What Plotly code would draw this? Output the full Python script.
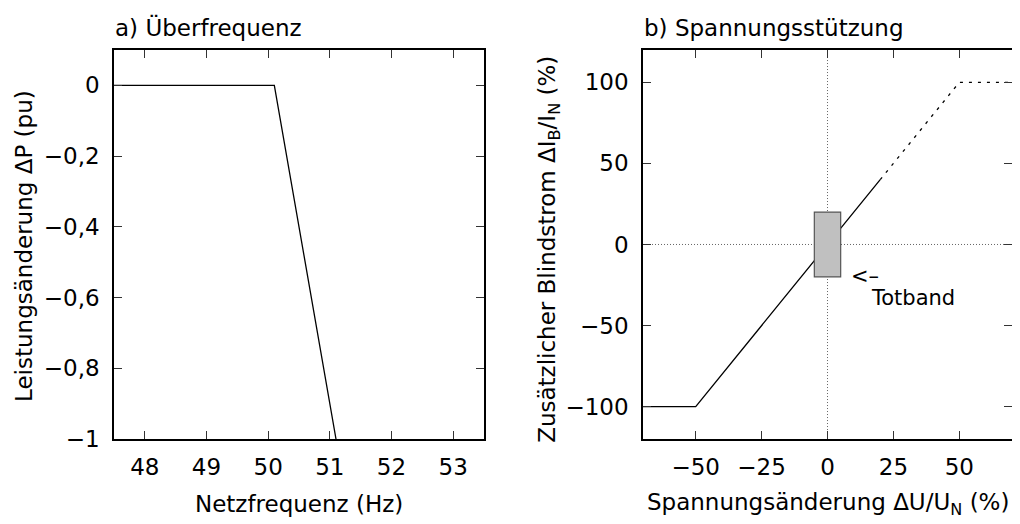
import plotly.graph_objects as go

# --- data ---
freq_hz = [47.5, 50.1, 51.1]
delta_p = [0, 0, -1]

u_solid = [-70, -50, 20]
i_solid = [-100, -100, 40]
u_dot = [20, 50, 70]
i_dot = [40, 100, 100]

totband_u = [-5, 5]
totband_i = [-20, 20]

left_xticks = [48, 49, 50, 51, 52, 53]
left_yticks = [0, -0.2, -0.4, -0.6, -0.8, -1]
right_xticks = [-50, -25, 0, 25, 50]
right_yticks = [100, 50, 0, -50, -100]

FONT = "DejaVu Sans, Liberation Sans, Arial, sans-serif"
FS = 23
XOFF = 8  # horizontal page offset of the plot div
W, H = 1020 - XOFF, 524


def fx(px):
    return (px - XOFF) / W


def fy(py):
    return 1 - py / H


fig = go.Figure()

fig.add_trace(go.Scatter(x=freq_hz, y=delta_p, mode="lines",
                         line=dict(color="black", width=1.3),
                         xaxis="x", yaxis="y", showlegend=False))

# zero reference lines (right)
fig.add_trace(go.Scatter(x=[-70, 70], y=[0, 0], mode="lines",
                         line=dict(color="#666666", width=1, dash="1px,2px"),
                         xaxis="x2", yaxis="y2", showlegend=False))
fig.add_trace(go.Scatter(x=[0, 0], y=[-120, 120], mode="lines",
                         line=dict(color="#666666", width=1, dash="1px,2px"),
                         xaxis="x2", yaxis="y2", showlegend=False))

fig.add_trace(go.Scatter(x=u_solid, y=i_solid, mode="lines",
                         line=dict(color="black", width=1.3),
                         xaxis="x2", yaxis="y2", showlegend=False))
fig.add_trace(go.Scatter(x=u_dot, y=i_dot, mode="lines",
                         line=dict(color="black", width=1.3, dash="3px,6px"),
                         xaxis="x2", yaxis="y2", showlegend=False))

fig.add_shape(type="rect", xref="x2", yref="y2",
              x0=totband_u[0], x1=totband_u[1], y0=totband_i[0], y1=totband_i[1],
              fillcolor="#c0c0c0", line=dict(color="#555555", width=1.2), layer="above")

axis_common = dict(showgrid=False, zeroline=False, showline=True, linecolor="black",
                   linewidth=1.5, mirror="ticks", ticks="inside", ticklen=8,
                   tickcolor="#333333", tickwidth=1,
                   tickfont=dict(family=FONT, size=FS, color="black"))

ann_font = dict(family=FONT, size=FS, color="black")

fig.update_layout(
    width=W, height=H,
    margin=dict(l=0, r=0, t=0, b=0),
    paper_bgcolor="white", plot_bgcolor="white",
    separators=", ",
    font=dict(family=FONT, size=FS, color="black"),
    xaxis=dict(axis_common, domain=[fx(114), fx(484)], range=[47.5, 53.5],
               tickvals=left_xticks, anchor="y", ticklabelstandoff=7),
    yaxis=dict(axis_common, domain=[fy(442), fy(43)], range=[-1, 0.1],
               tickvals=left_yticks, anchor="x", ticklabelstandoff=8),
    xaxis2=dict(axis_common, domain=[fx(643), fx(1012)], range=[-70, 70],
                tickvals=right_xticks, anchor="y2", ticklabelstandoff=7),
    yaxis2=dict(axis_common, domain=[fy(442), fy(43)], range=[-120, 120],
                tickvals=right_yticks, anchor="x2", ticklabelstandoff=8),
    annotations=[
        dict(text="a) Überfrequenz", x=fx(113), y=fy(20), xref="paper", yref="paper",
             xanchor="left", yanchor="middle", showarrow=False, font=ann_font),
        dict(text="b) Spannungsstützung", x=fx(642), y=fy(20), xref="paper", yref="paper",
             xanchor="left", yanchor="middle", showarrow=False, font=ann_font),
        dict(text="Netzfrequenz (Hz)", x=fx(299), y=fy(509), xref="paper", yref="paper",
             xanchor="center", yanchor="middle", showarrow=False, font=ann_font),
        dict(text="Spannungsänderung ΔU/U<sub>N</sub> (%)", x=fx(828), y=fy(509),
             xref="paper", yref="paper",
             xanchor="center", yanchor="middle", showarrow=False, font=ann_font),
        dict(text="Leistungsänderung ΔP (pu)", x=fx(24), y=fy(244), xref="paper", yref="paper",
             xanchor="center", yanchor="middle", textangle=-90, showarrow=False, font=ann_font),
        dict(text="Zusätzlicher Blindstrom ΔI<sub>B</sub>/I<sub>N</sub> (%)", x=fx(549), y=fy(248),
             xref="paper", yref="paper",
             xanchor="center", yanchor="middle", textangle=-90, showarrow=False, font=ann_font),
        dict(text="<–", x=fx(849), y=fy(275), xref="paper", yref="paper",
             xanchor="left", yanchor="middle", showarrow=False,
             font=dict(family=FONT, size=21, color="black")),
        dict(text="Totband", x=fx(869), y=fy(297), xref="paper", yref="paper",
             xanchor="left", yanchor="middle", showarrow=False,
             font=dict(family=FONT, size=21, color="black")),
    ],
)

fig.write_html("out.html")
